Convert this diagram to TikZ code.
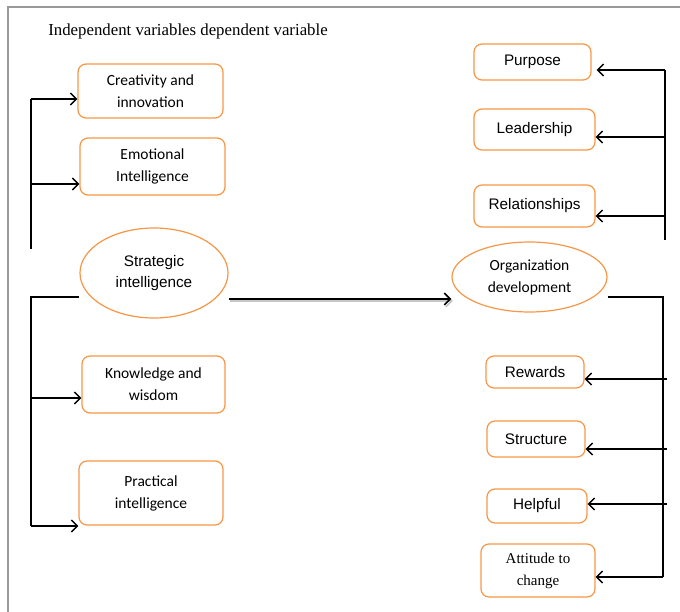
\documentclass[tikz,border=0pt]{standalone}
\usepackage{fontspec}
\setmainfont{Liberation Serif}
\newfontfamily\calfont{Carlito}
\newfontfamily\arialfont{Liberation Sans}
\usetikzlibrary{shapes.geometric,arrows.meta}
\definecolor{boxorange}{RGB}{247,150,70}
\tikzset{
  varbox/.style={draw=boxorange,line width=1.2pt,rounded corners=8pt,align=center,inner sep=0pt},
  varoval/.style={draw=boxorange,line width=1.2pt,ellipse,align=center,inner sep=0pt},
  calib/.style={font=\calfont\fontsize{15.5}{22}\selectfont},
  arial/.style={font=\arialfont\fontsize{15.3}{21}\selectfont},
  times/.style={font=\fontsize{15}{22}\selectfont},
  bar/.style={line width=1.8pt},
  arr/.style={line width=1.8pt,-{Straight Barb[length=6pt,width=12pt,line width=1.4pt]}},
}
\begin{document}
\begin{tikzpicture}[x=1pt,y=-1pt,line join=miter] % Strategic intelligence model
 \useasboundingbox (0,0) rectangle (680,612);
 \draw[gray!80,line width=1.2pt] (8,612)--(8,7)--(680,7);
 \node[font=\fontsize{16.8}{20}\selectfont] (title) at (188,31) {Independent variables dependent variable};

 % independent side
 \node[varbox,calib,minimum width=145pt,minimum height=54pt] (creat) at (150.5,91) {Creativity and\\innovation};
 \node[varbox,calib,minimum width=145pt,minimum height=57pt] (emot) at (152.5,166.5) {Emotional\\Intelligence};
 \node[varoval,arial,minimum width=148pt,minimum height=90pt] (strat) at (154,273) {Strategic\\intelligence};
 \node[varbox,calib,minimum width=143pt,minimum height=57pt] (know) at (153.5,384.5) {Knowledge and\\wisdom};
 \node[varbox,calib,minimum width=144pt,minimum height=64pt] (pract) at (151,493) {Practical\\intelligence};

 % dependent side
 \node[varbox,arial,minimum width=117pt,minimum height=36pt] (purp) at (532.5,62) {Purpose};
 \node[varbox,arial,minimum width=121pt,minimum height=41pt] (lead) at (534.5,129.5) {Leadership};
 \node[varbox,arial,minimum width=121pt,minimum height=42pt] (rel) at (534.5,206) {Relationships};
 \node[varoval,calib,minimum width=155pt,minimum height=70pt] (org) at (529.5,277) {Organization\\development};
 \node[varbox,arial,minimum width=98pt,minimum height=32pt] (rew) at (535,372) {Rewards};
 \node[varbox,arial,minimum width=98pt,minimum height=36pt] (struct) at (536,439) {Structure};
 \node[varbox,arial,minimum width=100pt,minimum height=34pt] (help) at (537,506) {Helpful};
 \node[varbox,times,minimum width=114pt,minimum height=53pt] (att) at (538,570.5) {Attitude to\\change};

 % left brackets
 \coordinate (lutop) at (31,99);
 \coordinate (lumid) at (31,184);
 \coordinate (lubot) at (31,249);
 \draw[bar] (lubot)--(lutop);
 \draw[arr] (lutop)--(lutop-|creat.west);
 \draw[arr] (lumid)--(lumid-|emot.west);
 \coordinate (llmid) at (31,398);
 \coordinate (llbot) at (31,526);
 \draw[bar] ([yshift=-24pt]strat.west)-|(llbot);
 \draw[arr] (llmid)--(llmid-|know.west);
 \draw[arr] (llbot)--(llbot-|pract.west);

 % main arrow with shadow
 \draw[line width=2pt,gray!45,-{Straight Barb[length=6pt,width=12pt,line width=1.6pt]}] ([xshift=1.5pt,yshift=-26pt-2pt]strat.east)--([xshift=1.5pt,yshift=-22pt-2pt]org.west);
 \draw[line width=2pt,-{Straight Barb[length=6pt,width=12pt,line width=1.6pt]}] ([yshift=-26pt]strat.east)--([yshift=-22pt]org.west);

 % right brackets
 \coordinate (rutop) at (665,70);
 \coordinate (rumid) at (665,137);
 \coordinate (rulow) at (665,216);
 \coordinate (rubot) at (665,240);
 \draw[bar] (rutop)--(rubot);
 \draw[arr] (rutop)--([xshift=5pt]rutop-|purp.east);
 \draw[arr] (rumid)--(rumid-|lead.east);
 \draw[arr] (rulow)--(rulow-|rel.east);
 \coordinate (rla) at (667,379);
 \coordinate (rlb) at (667,449);
 \coordinate (rlc) at (667,504);
 \coordinate (rlbot) at (663,577);
 \draw[bar] ([yshift=-20pt]org.east)-|(rlbot);
 \draw[arr] (rla)--(rla-|rew.east);
 \draw[arr] (rlb)--(rlb-|struct.east);
 \draw[arr] (rlc)--(rlc-|help.east);
 \draw[arr] (rlbot)--(rlbot-|att.east);
\end{tikzpicture}
\end{document}
